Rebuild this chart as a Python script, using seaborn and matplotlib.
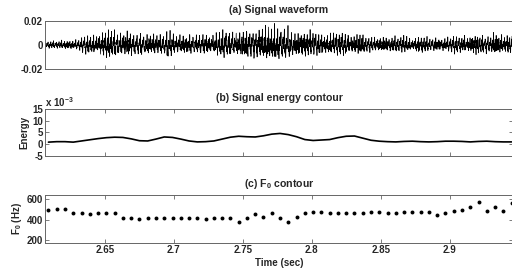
import numpy as np
import pandas as pd
import matplotlib
matplotlib.use("Agg")
import matplotlib.pyplot as plt
import seaborn as sns

# ---------------- data ----------------
frame_time = [2.609, 2.615, 2.621, 2.627, 2.633, 2.639, 2.645, 2.651, 2.657, 2.663,
              2.669, 2.675, 2.681, 2.687, 2.693, 2.699, 2.705, 2.711, 2.717, 2.723,
              2.729, 2.735, 2.741, 2.747, 2.753, 2.759, 2.765, 2.771, 2.777, 2.783,
              2.789, 2.795, 2.801, 2.807, 2.813, 2.819, 2.825, 2.831, 2.837, 2.843,
              2.849, 2.855, 2.861, 2.867, 2.873, 2.879, 2.885, 2.891, 2.897, 2.903,
              2.909, 2.915, 2.921, 2.927, 2.933, 2.939, 2.945]

f0_hz = [500, 510, 510, 467, 467, 457, 467, 463, 463, 420,
         420, 407, 420, 420, 420, 420, 420, 420, 420, 407,
         420, 420, 420, 377, 420, 457, 427, 467, 417, 377,
         430, 467, 477, 477, 467, 467, 467, 467, 463, 480,
         480, 467, 467, 473, 473, 480, 480, 447, 467, 487,
         500, 527, 573, 483, 520, 487, 567]

energy_e3 = [0.9, 1.1, 1.1, 0.9, 1.4, 1.9, 2.4, 2.8, 3.0, 2.9,
             2.3, 1.5, 1.4, 2.2, 3.1, 2.9, 2.2, 1.4, 1.0, 1.1,
             1.4, 2.2, 3.0, 3.4, 3.2, 3.1, 3.6, 4.3, 4.6, 4.1,
             3.2, 2.0, 1.6, 1.8, 2.0, 2.8, 3.4, 3.5, 2.6, 1.7,
             1.3, 1.1, 1.0, 1.2, 1.3, 1.1, 1.0, 1.1, 1.3, 1.3,
             1.2, 1.0, 1.2, 1.3, 1.1, 1.0, 1.0]

wave_env = [0.003, 0.003, 0.004, 0.004, 0.006, 0.008, 0.010, 0.012, 0.012, 0.011,
            0.011, 0.009, 0.009, 0.010, 0.010, 0.010, 0.009, 0.009, 0.008, 0.009,
            0.010, 0.011, 0.012, 0.013, 0.013, 0.014, 0.014, 0.015, 0.015, 0.013,
            0.012, 0.011, 0.010, 0.010, 0.010, 0.010, 0.010, 0.009, 0.008, 0.007,
            0.006, 0.007, 0.007, 0.007, 0.007, 0.007, 0.006, 0.006, 0.006, 0.007,
            0.008, 0.008, 0.009, 0.008, 0.009, 0.008, 0.008]

x_ticks = [2.65, 2.7, 2.75, 2.8, 2.85, 2.9]
x_tick_labels = ["2.65", "2.7", "2.75", "2.8", "2.85", "2.9"]
titles = ["(a) Signal waveform", "(b) Signal energy contour", r"(c) F$_\mathbf{0}$ contour"]

# ---------------- waveform synthesis (envelope x harmonic carrier) ----------------
fs = 11025
t_wave = np.arange(2.600, 2.950, 1.0 / fs)
f_inst = np.interp(t_wave, frame_time, f0_hz)
phase = 2 * np.pi * np.cumsum(f_inst) / fs
env = np.interp(t_wave, frame_time, wave_env)
harm_amp = [1.0, 0.8, 0.65, 0.5, 0.45, 0.35, 0.3, 0.25, 0.2]
harm_phase = [0.0, 2.2, 1.3, 3.6, 0.4, 4.8, 1.7, 5.3, 2.4]
carrier = np.zeros_like(t_wave)
for k, (a, p) in enumerate(zip(harm_amp, harm_phase), start=1):
    # slow, incommensurate drift of each harmonic's amplitude gives a speech-like texture
    carrier += a * (0.7 + 0.3 * np.sin(2 * np.pi * (37.0 + 11.3 * k) * t_wave + p)) \
        * np.sin(k * phase + p)
carrier += 0.35 * np.sin(2 * np.pi * 2713.0 * t_wave) + 0.3 * np.sin(2 * np.pi * 3917.0 * t_wave + 1.1)
carrier = carrier / np.percentile(np.abs(carrier), 99)
wave = env * carrier

wave_df = pd.DataFrame({"t": t_wave, "y": wave})
frame_df = pd.DataFrame({"t": frame_time, "f0": f0_hz, "energy": energy_e3})

# ---------------- style ----------------
sns.set_theme(style="white")
plt.rcParams["font.family"] = ["Liberation Sans", "DejaVu Sans"]
plt.rcParams["font.weight"] = "bold"
plt.rcParams["mathtext.fontset"] = "custom"
plt.rcParams["mathtext.bf"] = "Liberation Sans:bold"
plt.rcParams["mathtext.rm"] = "Liberation Sans:bold"
plt.rcParams["mathtext.default"] = "bf"

fig = plt.figure(figsize=(5.12, 2.74), dpi=100)
W, H = 512.0, 274.0
def box(l, r, t, b):
    return [l / W, 1 - b / H, (r - l) / W, (b - t) / H]

ax_a = fig.add_axes(box(45, 513, 21, 69))
ax_b = fig.add_axes(box(45, 513, 109, 156))
ax_c = fig.add_axes(box(45, 513, 195, 243))

xlim = (2.6065, 2.9460)
fs_txt = 7
fs_title = 7.6

sns.lineplot(data=wave_df, x="t", y="y", ax=ax_a, color="black", lw=0.5,
             estimator=None, sort=False)
sns.lineplot(data=frame_df, x="t", y="energy", ax=ax_b, color="black", lw=1.2,
             estimator=None)
sns.scatterplot(data=frame_df, x="t", y="f0", ax=ax_c, color="black", s=8,
                linewidth=0, marker="o")

ax_a.set_ylim(-0.02, 0.02)
ax_a.set_yticks([-0.02, 0, 0.02])
ax_a.set_yticklabels(["-0.02", "0", "0.02"])

ax_b.set_ylim(-5, 15)
ax_b.set_yticks([-5, 0, 5, 10, 15])
ax_b.set_yticklabels(["-5", "0", "5", "10", "15"])
ax_b.text(0.0, 1.0, r"x 10$^{-3}$", transform=ax_b.transAxes, ha="left", va="bottom",
          fontsize=fs_txt, fontweight="bold")

ax_c.set_ylim(173, 642)
ax_c.set_yticks([200, 400, 600])
ax_c.set_yticklabels(["200", "400", "600"])

for ax, ttl in zip([ax_a, ax_b, ax_c], titles):
    ax.set_xlim(*xlim)
    ax.set_xticks(x_ticks)
    ax.set_title(ttl, fontsize=fs_title, fontweight="bold", pad=5.5)
    ax.tick_params(direction="in", length=3, width=0.6, color="#666666",
                   top=True, right=True, bottom=True, left=True,
                   labelsize=fs_txt, pad=1.5)
    for lbl in ax.get_yticklabels():
        lbl.set_fontweight("bold")
    for sp in ax.spines.values():
        sp.set_visible(True)
        sp.set_color("#666666")
        sp.set_linewidth(0.7)
    ax.set_xlabel("")
    ax.set_ylabel("")

ax_a.set_xticklabels([])
ax_b.set_xticklabels([])
ax_c.set_xticklabels(x_tick_labels, fontweight="bold")

ax_b.set_ylabel("Energy", fontsize=fs_txt, fontweight="bold", labelpad=2)
ax_c.set_ylabel(r"F$_\mathbf{0}$ (Hz)", fontsize=fs_txt, fontweight="bold", labelpad=2)
ax_c.set_xlabel("Time (sec)", fontsize=fs_txt, fontweight="bold", labelpad=2)

fig.savefig("out.png", dpi=100)
